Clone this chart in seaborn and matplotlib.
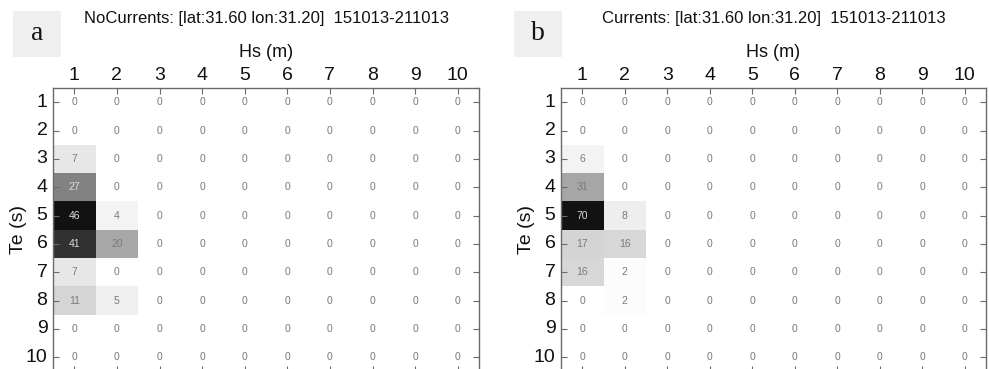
import numpy as np
import pandas as pd
import matplotlib
matplotlib.use("Agg")
import matplotlib.pyplot as plt
import seaborn as sns
from matplotlib.colors import LinearSegmentedColormap, PowerNorm
from matplotlib.patches import Rectangle

# Hs (columns) and Te (rows) bins
hs_bins = [1, 2, 3, 4, 5, 6, 7, 8, 9, 10]
te_bins = [1, 2, 3, 4, 5, 6, 7, 8, 9, 10]

# occurrence counts, one list per Te row
no_currents = [
    [0, 0, 0, 0, 0, 0, 0, 0, 0, 0],
    [0, 0, 0, 0, 0, 0, 0, 0, 0, 0],
    [7, 0, 0, 0, 0, 0, 0, 0, 0, 0],
    [27, 0, 0, 0, 0, 0, 0, 0, 0, 0],
    [46, 4, 0, 0, 0, 0, 0, 0, 0, 0],
    [41, 20, 0, 0, 0, 0, 0, 0, 0, 0],
    [7, 0, 0, 0, 0, 0, 0, 0, 0, 0],
    [11, 5, 0, 0, 0, 0, 0, 0, 0, 0],
    [0, 0, 0, 0, 0, 0, 0, 0, 0, 0],
    [0, 0, 0, 0, 0, 0, 0, 0, 0, 0],
]
currents = [
    [0, 0, 0, 0, 0, 0, 0, 0, 0, 0],
    [0, 0, 0, 0, 0, 0, 0, 0, 0, 0],
    [6, 0, 0, 0, 0, 0, 0, 0, 0, 0],
    [31, 0, 0, 0, 0, 0, 0, 0, 0, 0],
    [70, 8, 0, 0, 0, 0, 0, 0, 0, 0],
    [17, 16, 0, 0, 0, 0, 0, 0, 0, 0],
    [16, 2, 0, 0, 0, 0, 0, 0, 0, 0],
    [0, 2, 0, 0, 0, 0, 0, 0, 0, 0],
    [0, 0, 0, 0, 0, 0, 0, 0, 0, 0],
    [0, 0, 0, 0, 0, 0, 0, 0, 0, 0],
]

titles = ["NoCurrents: [lat:31.60 lon:31.20]  151013-211013",
          "Currents: [lat:31.60 lon:31.20]  151013-211013"]
panel_tags = ["a", "b"]

sns.set_style("white")
plt.rcParams["font.family"] = ["Liberation Sans", "DejaVu Sans"]

W, H = 989, 369
fig = plt.figure(figsize=(W / 100, H / 100), dpi=100)

cmap = LinearSegmentedColormap.from_list("grey_r", ["#ffffff", "#121212"])
line_col = "#6a6a6a"

# axes placement in pixels: left, right, top, bottom
boxes = [(53, 479, 88, 371.5), (561, 986, 88, 371.5)]
tag_boxes = [(13, 11), (514, 11)]

for k, (vals, title) in enumerate(zip([no_currents, currents], titles)):
    l, r, t, b = boxes[k]
    ax = fig.add_axes([l / W, 1 - b / H, (r - l) / W, (b - t) / H])
    df = pd.DataFrame(vals, index=te_bins, columns=hs_bins)
    vmax = df.values.max()
    norm = PowerNorm(gamma=1.2, vmin=0, vmax=vmax)
    sns.heatmap(df, ax=ax, cmap=cmap, norm=norm, cbar=False,
                annot=True, fmt="d", annot_kws={"size": 7.5})
    # annotation colours: grey text, light text on dark cells
    flat = df.values.flatten()
    for txt, v in zip(ax.texts, flat):
        txt.set_color("#dcdcdc" if norm(v) > 0.45 else "#7a7a7a")

    ax.set_axisbelow(False)
    for side in ["left", "right", "top", "bottom"]:
        ax.spines[side].set_visible(True)
        ax.spines[side].set_color(line_col)
        ax.spines[side].set_linewidth(1.0)

    ax.xaxis.tick_top()
    ax.tick_params(axis="both", direction="in", length=4, width=0.8,
                   color=line_col, top=True, bottom=True, left=True, right=True,
                   labeltop=True, labelbottom=False, labelsize=14,
                   labelcolor="#111111")
    ax.tick_params(axis="x", pad=3)
    ax.tick_params(axis="y", pad=4)
    ax.set_yticklabels(te_bins, rotation=0)
    ax.set_xticklabels(hs_bins, rotation=0)

    ax.set_xlabel("Hs (m)", fontsize=13, color="#111111")
    ax.xaxis.set_label_position("top")
    ax.xaxis.set_label_coords(0.5, 1.11)
    ax.set_ylabel("Te (s)", fontsize=14, color="#111111")
    ax.yaxis.set_label_coords(-0.062, 0.5)
    ax.set_title(title, fontsize=12, color="#111111", y=1.23, pad=0,
                 va="baseline")

    # panel tag in a grey box
    tx, ty = tag_boxes[k]
    fig.patches.append(Rectangle((tx / W, 1 - (ty + 46) / H), 48 / W, 46 / H,
                                 transform=fig.transFigure, facecolor="#efefef",
                                 edgecolor="none", zorder=0))
    fig.text((tx + 24) / W, 1 - (ty + 23) / H, panel_tags[k],
             family=["Liberation Serif", "DejaVu Serif"], fontsize=20,
             ha="center", va="center", color="#111111")

fig.savefig("out.png", dpi=100)
